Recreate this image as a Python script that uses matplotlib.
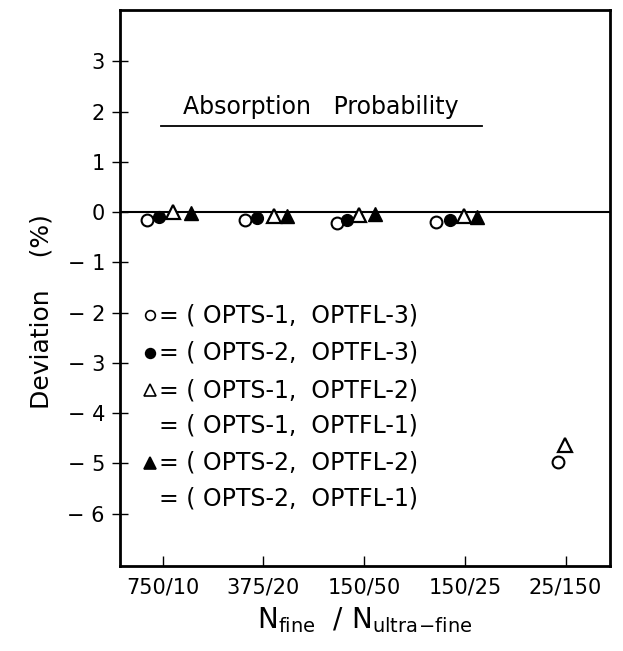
import matplotlib
matplotlib.use('Agg')
import matplotlib.pyplot as plt

plt.rcParams['font.family'] = ['DejaVu Sans']
plt.rcParams['mathtext.fontset'] = 'dejavusans'

# tick categories
ratios = ['750/10', '375/20', '150/50', '150/25', '25/150']
yticks = [3, 2, 1, 0, -1, -2, -3, -4, -5, -6]
ytick_labels = ['3', '2', '1', '0', '\u2212 1', '\u2212 2', '\u2212 3', '\u2212 4', '\u2212 5', '\u2212 6']

# (x in tick units, y in %)
x_open_circle = [-0.15, 0.82, 1.73, 2.71, 3.92]
y_open_circle = [-0.15, -0.15, -0.22, -0.2, -4.97]
x_fill_circle = [-0.04, 0.94, 1.83, 2.85]
y_fill_circle = [-0.1, -0.12, -0.15, -0.15]
x_open_tri = [0.1, 1.11, 1.95, 2.99, 3.99]
y_open_tri = [0.0, -0.08, -0.05, -0.08, -4.63]
x_fill_tri = [0.28, 1.24, 2.11, 3.12]
y_fill_tri = [-0.02, -0.08, -0.03, -0.1]

legend_lines = ['= ( OPTS-1,  OPTFL-3)', '= ( OPTS-2,  OPTFL-3)', '= ( OPTS-1,  OPTFL-2)',
                '= ( OPTS-1,  OPTFL-1)', '= ( OPTS-2,  OPTFL-2)', '= ( OPTS-2,  OPTFL-1)']
legend_markers = ['o', 'o', '^', None, '^', None]
legend_fill = ['white', 'black', 'white', None, 'black', None]

fig = plt.figure(figsize=(6.23, 6.51), dpi=100)
ax = fig.add_axes([0.193, 0.1306, 0.786, 0.854])

ax.axhline(0, color='black', lw=1.5, zorder=1)

ax.plot(x_open_circle, y_open_circle, 'o', ms=8.5, mfc='white', mec='black', mew=1.5, zorder=3)
ax.plot(x_fill_circle, y_fill_circle, 'o', ms=8.5, mfc='black', mec='black', zorder=3)
ax.plot(x_open_tri, y_open_tri, '^', ms=10, mfc='white', mec='black', mew=1.6, zorder=3)
ax.plot(x_fill_tri, y_fill_tri, '^', ms=10, mfc='black', mec='black', zorder=3)

ax.set_xlim(-0.42, 4.44)
ax.set_ylim(-7.04, 4.02)
ax.set_xticks(range(len(ratios)))
ax.set_xticklabels(ratios, fontsize=15)
ax.set_yticks(yticks)
ax.set_yticklabels(ytick_labels, fontsize=15)
ax.tick_params(axis='y', direction='inout', length=12, width=1, pad=5)
ax.tick_params(axis='x', direction='in', length=7, width=1, pad=8)
for s in ax.spines.values():
    s.set_linewidth(2)

ax.text(1.57, 2.1, 'Absorption   Probability', fontsize=17, ha='center', va='center')
ax.plot([-0.02, 3.17], [1.72, 1.72], color='black', lw=1.3)

ly = [-2.05, -2.80, -3.54, -4.24, -4.99, -5.69]
for y, txt, m, fc in zip(ly, legend_lines, legend_markers, legend_fill):
    if m is not None:
        ax.plot([-0.12], [y], m, ms=8 if m == '^' else 7, mfc=fc, mec='black', mew=1.2)
    ax.text(-0.04, y, txt, fontsize=17, ha='left', va='center')

ax.set_ylabel('Deviation    (%)', fontsize=18, labelpad=10, y=0.457)
ax.set_xlabel(r'N$_{\mathregular{fine}}$  / N$_{\mathregular{ultra\!-\!fine}}$', fontsize=20, labelpad=6)

fig.savefig('out.png', dpi=100)
